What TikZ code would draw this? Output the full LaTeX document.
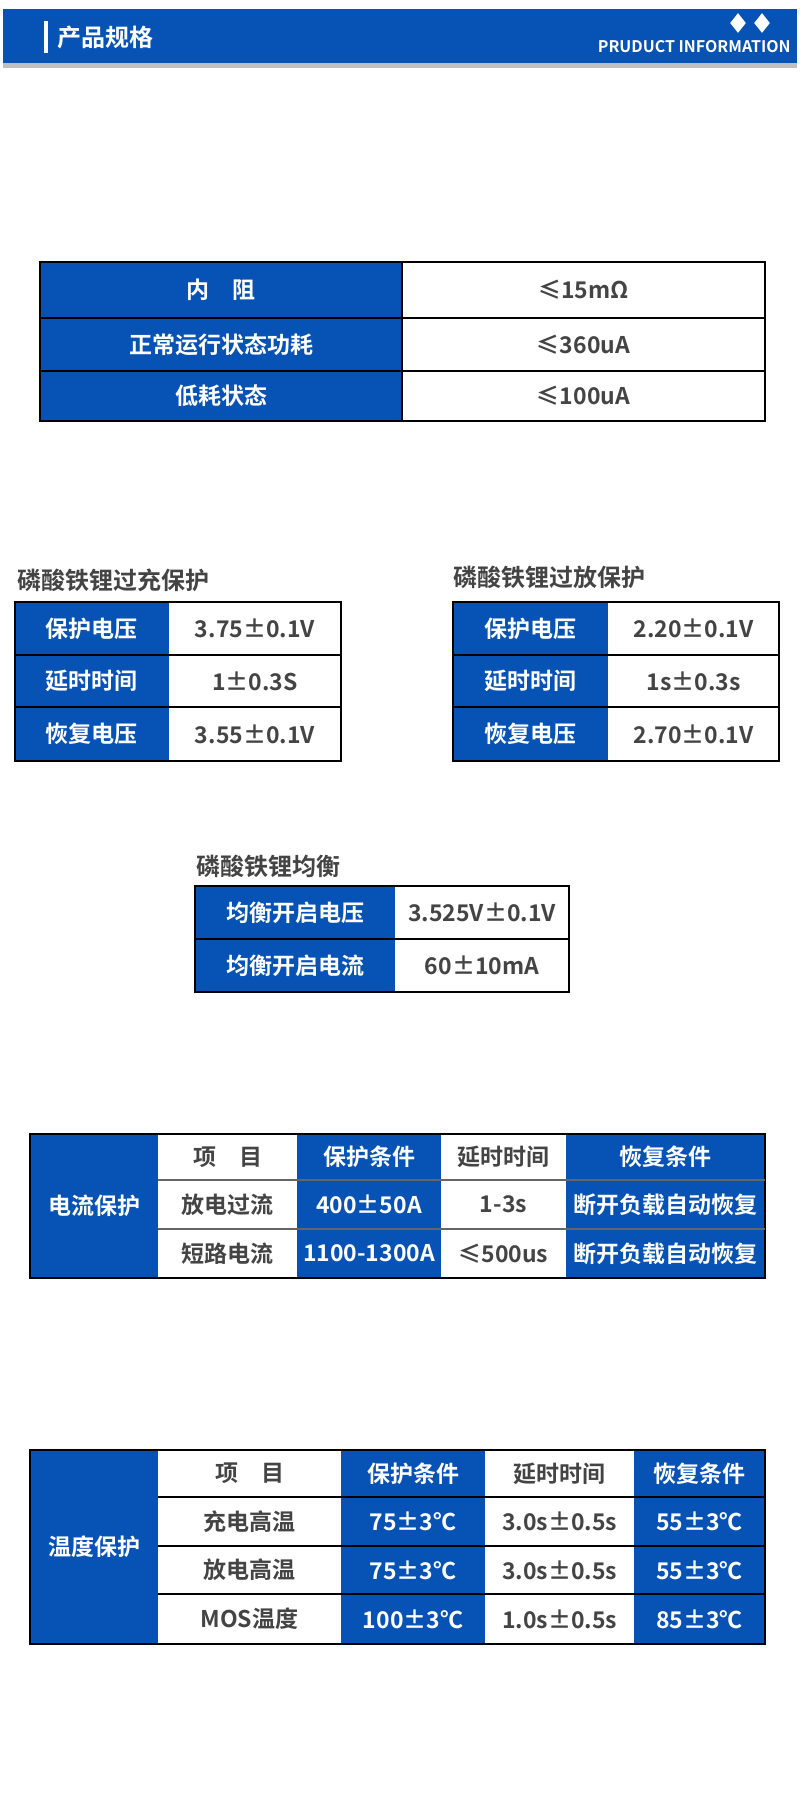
\documentclass[tikz,border=0pt]{standalone}
\usepackage{fontspec}
\setmainfont{Noto Sans CJK SC Bold}
\usetikzlibrary{shapes.geometric}
\definecolor{bb}{HTML}{0753B5}
\definecolor{tg}{HTML}{444444}
\newcommand\cellbox[7]{\fill[#5] (#1,#2) rectangle (#3,#4); \node[text=#6,font=\fontsize{11.5}{13}\selectfont] (c#1-#2) at ({(#1+#3)/2},{(#2+#4)/2}) {#7};}
\newcommand\B[5]{\cellbox{#1}{#2}{#3}{#4}{bb}{white}{#5}}
\newcommand\W[5]{\cellbox{#1}{#2}{#3}{#4}{white}{tg}{#5}}
\begin{document}
\begin{tikzpicture}[x=0.5pt,y=-0.5pt,grid/.style={draw=black,line width=1.2pt},
 ttl/.style={anchor=west,text=tg,font=\fontsize{12}{14}\selectfont,inner sep=0pt}]
\useasboundingbox (0,0) rectangle (800,1800);
\fill[white] (0,0) rectangle (800,1800);
% header
\fill[black!25] (3,63) rectangle (797,68);
\fill[bb] (3,9) rectangle (797,63);
\fill[white] (44,21) rectangle (48,53);
\node[anchor=west,text=white,inner sep=0pt,font=\fontsize{12}{14}\selectfont] (hd) at (57,37) {产品规格};
\node[anchor=east,text=white,inner sep=0pt,font=\fontsize{8}{9}\selectfont] (hden) at (791,47) {PRUDUCT INFORMATION};
\node[diamond,fill=white,minimum width=8pt,minimum height=10pt,inner sep=0pt] (d1) at (738,23) {};
\node[diamond,fill=white,minimum width=8pt,minimum height=10pt,inner sep=0pt] (d2) at (762,23) {};
% table 1
\B{40}{262}{402}{318}{内\quad 阻}\W{402}{262}{765}{318}{≤15mΩ}
\B{40}{318}{402}{371}{正常运行状态功耗}\W{402}{318}{765}{371}{≤360uA}
\B{40}{371}{402}{421}{低耗状态}\W{402}{371}{765}{421}{≤100uA}
\draw[grid] (40,262) rectangle (765,421) (40,318)--(765,318) (40,371)--(765,371) (402,262)--(402,421);
% table 2
\node[ttl] (t2) at (17,580) {磷酸铁锂过充保护};
\B{15}{602}{169}{655}{保护电压}\W{169}{602}{341}{655}{3.75±0.1V}
\B{15}{655}{169}{707}{延时时间}\W{169}{655}{341}{707}{1±0.3S}
\B{15}{707}{169}{761}{恢复电压}\W{169}{707}{341}{761}{3.55±0.1V}
\draw[grid] (15,602) rectangle (341,761) (15,655)--(341,655) (15,707)--(341,707);
\node[ttl] (t3) at (453,577) {磷酸铁锂过放保护};
\B{453}{602}{608}{655}{保护电压}\W{608}{602}{779}{655}{2.20±0.1V}
\B{453}{655}{608}{707}{延时时间}\W{608}{655}{779}{707}{1s±0.3s}
\B{453}{707}{608}{761}{恢复电压}\W{608}{707}{779}{761}{2.70±0.1V}
\draw[grid] (453,602) rectangle (779,761) (453,655)--(779,655) (453,707)--(779,707);
% table 3
\node[ttl] (t4) at (196,866) {磷酸铁锂均衡};
\B{195}{886}{395}{939}{均衡开启电压}\W{395}{886}{569}{939}{3.525V±0.1V}
\B{195}{939}{395}{992}{均衡开启电流}\W{395}{939}{569}{992}{60±10mA}
\draw[grid] (195,886) rectangle (569,992) (195,939)--(569,939);
% table 4
\B{30}{1134}{158}{1278}{电流保护}
\W{158}{1134}{297}{1180}{项\quad 目}\B{297}{1134}{441}{1180}{保护条件}\W{441}{1134}{566}{1180}{延时时间}\B{566}{1134}{765}{1180}{恢复条件}
\W{158}{1180}{297}{1229}{放电过流}\B{297}{1180}{441}{1229}{400±50A}\W{441}{1180}{566}{1229}{1-3s}\B{566}{1180}{765}{1229}{断开负载自动恢复}
\W{158}{1229}{297}{1278}{短路电流}\B{297}{1229}{441}{1278}{1100-1300A}\W{441}{1229}{566}{1278}{≤500us}\B{566}{1229}{765}{1278}{断开负载自动恢复}
\draw[grid] (30,1134) rectangle (765,1278);
\draw[black!60,line width=0.6pt] (158,1180)--(765,1180) (158,1229)--(765,1229);
% table 5
\B{30}{1450}{158}{1644}{温度保护}
\W{158}{1450}{341}{1497}{项\quad 目}\B{341}{1450}{485}{1497}{保护条件}\W{485}{1450}{634}{1497}{延时时间}\B{634}{1450}{765}{1497}{恢复条件}
\W{158}{1497}{341}{1546}{充电高温}\B{341}{1497}{485}{1546}{75±3℃}\W{485}{1497}{634}{1546}{3.0s±0.5s}\B{634}{1497}{765}{1546}{55±3℃}
\W{158}{1546}{341}{1594}{放电高温}\B{341}{1546}{485}{1594}{75±3℃}\W{485}{1546}{634}{1594}{3.0s±0.5s}\B{634}{1546}{765}{1594}{55±3℃}
\W{158}{1594}{341}{1644}{MOS温度}\B{341}{1594}{485}{1644}{100±3℃}\W{485}{1594}{634}{1644}{1.0s±0.5s}\B{634}{1594}{765}{1644}{85±3℃}
\draw[grid] (30,1450) rectangle (765,1644) (158,1497)--(765,1497) (158,1546)--(765,1546) (158,1594)--(765,1594);
\end{tikzpicture}
\end{document}
